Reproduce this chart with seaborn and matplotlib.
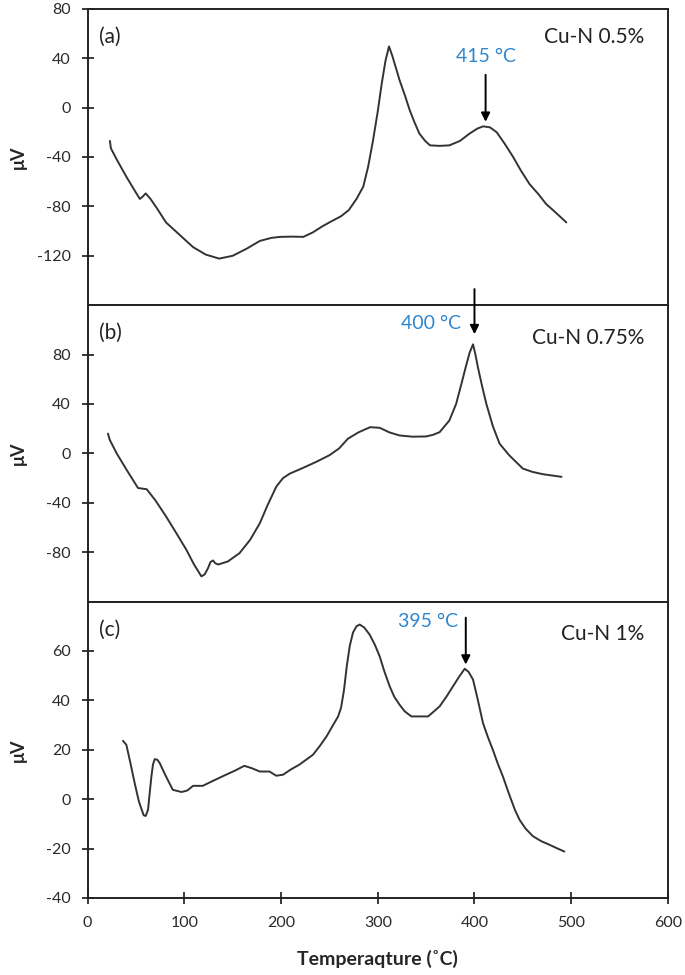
"""
DTA curves for Cu-N catalysts (0.5 %, 0.75 %, 1 %), three stacked panels.
"""

import matplotlib.pyplot as plt
import seaborn as sns

# ── Data ─────────────────────────────────────────────────────────────────────
A_T = [23, 24, 30, 40, 50, 54, 57, 60, 65, 72, 81, 95, 109, 122, 136, 150,
       165, 178, 190, 199, 212, 223, 233, 243, 253, 262, 270, 278, 285, 290,
       295, 300, 304, 308, 311.6, 315, 322.6, 328, 333, 338, 343, 349, 354,
       364, 374, 385, 395, 403, 409, 416, 423, 431, 440, 448, 457, 466, 474,
       484, 495]
A_UV = [-27, -33, -42, -56, -69, -74, -72, -69.5, -74, -82, -93, -103, -113,
        -119, -122.3, -120, -114, -108, -105.5, -104.7, -104.5, -104.7, -101,
        -96, -91.7, -88, -83, -74, -64, -48, -27, -3, 19, 38, 49.5, 42, 22,
        10, -2, -12, -21, -27, -30.6, -31, -30.6, -27, -21, -17, -15.2, -16,
        -20, -29, -40, -51, -62, -70, -78, -85, -93]

B_T = [21, 22.8, 30, 40, 52, 56, 61, 70, 81, 92, 102, 110, 117.6, 121, 124.4,
       127, 129.6, 132, 135, 145, 157, 168, 178, 186, 195, 202, 209, 222, 236,
       250, 260, 269, 280, 292, 302, 312, 322.6, 336, 350, 357, 364, 374, 381,
       386.4, 391, 395, 398.5, 401, 403.6, 408, 412.3, 419, 426, 436, 450, 460,
       471, 490]
B_UV = [16, 11, 0, -13, -28, -28.5, -29, -38, -51, -65, -78, -90, -99.6, -98,
        -93, -88, -86.7, -89, -90, -87.5, -80.8, -70, -56.6, -42, -27, -20,
        -16.4, -12, -7, -1.5, 4, 11.8, 17, 21.2, 20.7, 17, 14.5, 13.5, 13.7,
        15, 17.2, 26.6, 40, 56, 70, 81.6, 88.3, 80, 69.5, 54, 40, 22, 7.8,
        -1.6, -12.3, -15, -16.9, -19]

C_T = [36.5, 40, 44, 48.6, 53, 57.9, 60, 62.4, 64, 65.9, 67.5, 69.3, 72, 74.5,
       80, 88, 97, 103, 109, 119, 130, 143, 152, 162, 170, 178, 188, 195, 202,
       210, 219, 226, 233, 240, 247, 253, 259, 262, 265, 268, 271, 274.4, 278,
       281.3, 286, 291.6, 297, 302, 307, 312.3, 317, 322.6, 328, 334.7, 352,
       358, 364, 371, 377.8, 384, 389.9, 394, 398.5, 403, 408.8, 414, 419, 424,
       429.4, 434, 438, 442, 446.7, 453, 460.5, 469, 477.8, 486, 493]
C_UV = [23.6, 22, 15, 6.5, -1, -6.5, -6.8, -4.3, 2, 9.2, 14, 16.2, 16, 14.6,
        10, 3.8, 2.9, 3.5, 5.4, 5.4, 7.5, 9.9, 11.5, 13.5, 12.5, 11.2, 11.2,
        9.5, 9.9, 12, 14, 16, 18, 21.5, 25.4, 29.5, 33.5, 37, 44, 54, 62, 67.5,
        70, 70.7, 69.5, 66.6, 62.5, 57.8, 51.5, 45.7, 41.5, 38.2, 35.5, 33.5,
        33.5, 35.5, 37.6, 41.5, 45.7, 49.5, 52.8, 51.5, 48.4, 41, 30.8, 25, 20,
        14.5, 9.2, 4, -0.3, -4.5, -8.4, -12, -15, -17, -18.5, -20, -21.2]

PANEL_TAGS = ["(a)", "(b)", "(c)"]
SAMPLES = ["Cu-N 0.5%", "Cu-N 0.75%", "Cu-N 1%"]
PEAK_LABELS = ["415 °C", "400 °C", "395 °C"]
YLIMS = [(-160, 80), (-120, 120), (-40, 80)]
YTICKS = [[-120, -80, -40, 0, 40, 80], [-80, -40, 0, 40, 80],
          [-40, -20, 0, 20, 40, 60]]
XTICKS = [0, 100, 200, 300, 400, 500, 600]

LINE_COLOR = "#333333"
BLUE = "#2f86cf"

sns.set_theme(style="white")
plt.rcParams["font.family"] = ["Lato", "DejaVu Sans"]
plt.rcParams["axes.edgecolor"] = "#222222"
plt.rcParams["axes.unicode_minus"] = False


def draw():
    fig, axes = plt.subplots(3, 1, figsize=(6.85, 9.75), dpi=100, sharex=True)
    fig.subplots_adjust(left=0.128, right=0.975, top=0.991, bottom=0.079,
                        hspace=0)

    curves = [(A_T, A_UV), (B_T, B_UV), (C_T, C_UV)]
    for i, (ax, (t, uv)) in enumerate(zip(axes, curves)):
        sns.lineplot(x=t, y=uv, ax=ax, color=LINE_COLOR, lw=1.4,
                     estimator=None, sort=False)
        ax.set_xlim(0, 600)
        ax.set_ylim(*YLIMS[i])
        ax.set_yticks(YTICKS[i])
        for s in ax.spines.values():
            s.set_linewidth(1.4)
        ax.tick_params(axis="y", direction="inout", length=8, width=1.3,
                       left=True, labelsize=11.5, colors="#2a2a2a", pad=8)
        ax.tick_params(axis="x", direction="inout", length=8, width=1.3,
                       bottom=(i == 2), labelsize=11.5, colors="#2a2a2a", pad=9)
        ax.set_ylabel("μV", fontsize=13, fontweight="bold")
        ax.yaxis.set_label_coords(-0.105, 0.5)
        ax.text(0.02, 0.905, PANEL_TAGS[i], transform=ax.transAxes,
                fontsize=15, color="#222222", va="center", ha="left")
        ax.text(0.96, 0.905 if i == 0 else 0.89, SAMPLES[i],
                transform=ax.transAxes, fontsize=15, color="#222222",
                va="center", ha="right")

    axes[2].set_xticks(XTICKS)
    axes[2].set_xlabel("Temperaqture (˚C)", fontsize=14, fontweight="bold",
                       labelpad=14)

    arrow = dict(arrowstyle="-|>", color="black", lw=1.4, mutation_scale=13,
                 shrinkA=0, shrinkB=0)
    # (a) peak at 415 °C
    axes[0].annotate("", xy=(411.5, -11.5), xytext=(411.5, 26.5),
                     arrowprops=arrow)
    axes[0].text(411.5, 41, PEAK_LABELS[0], color=BLUE, fontsize=14,
                 ha="center", va="center")
    # (b) peak at 400 °C, arrow starts inside panel (a)
    axes[1].annotate("", xy=(400, 96.5), xytext=(400, 133),
                     arrowprops=arrow, annotation_clip=False)
    axes[1].text(386, 105, PEAK_LABELS[1], color=BLUE, fontsize=14,
                 ha="right", va="center")
    # (c) peak at 395 °C
    axes[2].annotate("", xy=(391, 54.5), xytext=(391, 73.5),
                     arrowprops=arrow)
    axes[2].text(383, 72, PEAK_LABELS[2], color=BLUE, fontsize=14,
                 ha="right", va="center")

    fig.savefig("out.png", dpi=100)
    plt.close(fig)


if __name__ == "__main__":
    draw()
